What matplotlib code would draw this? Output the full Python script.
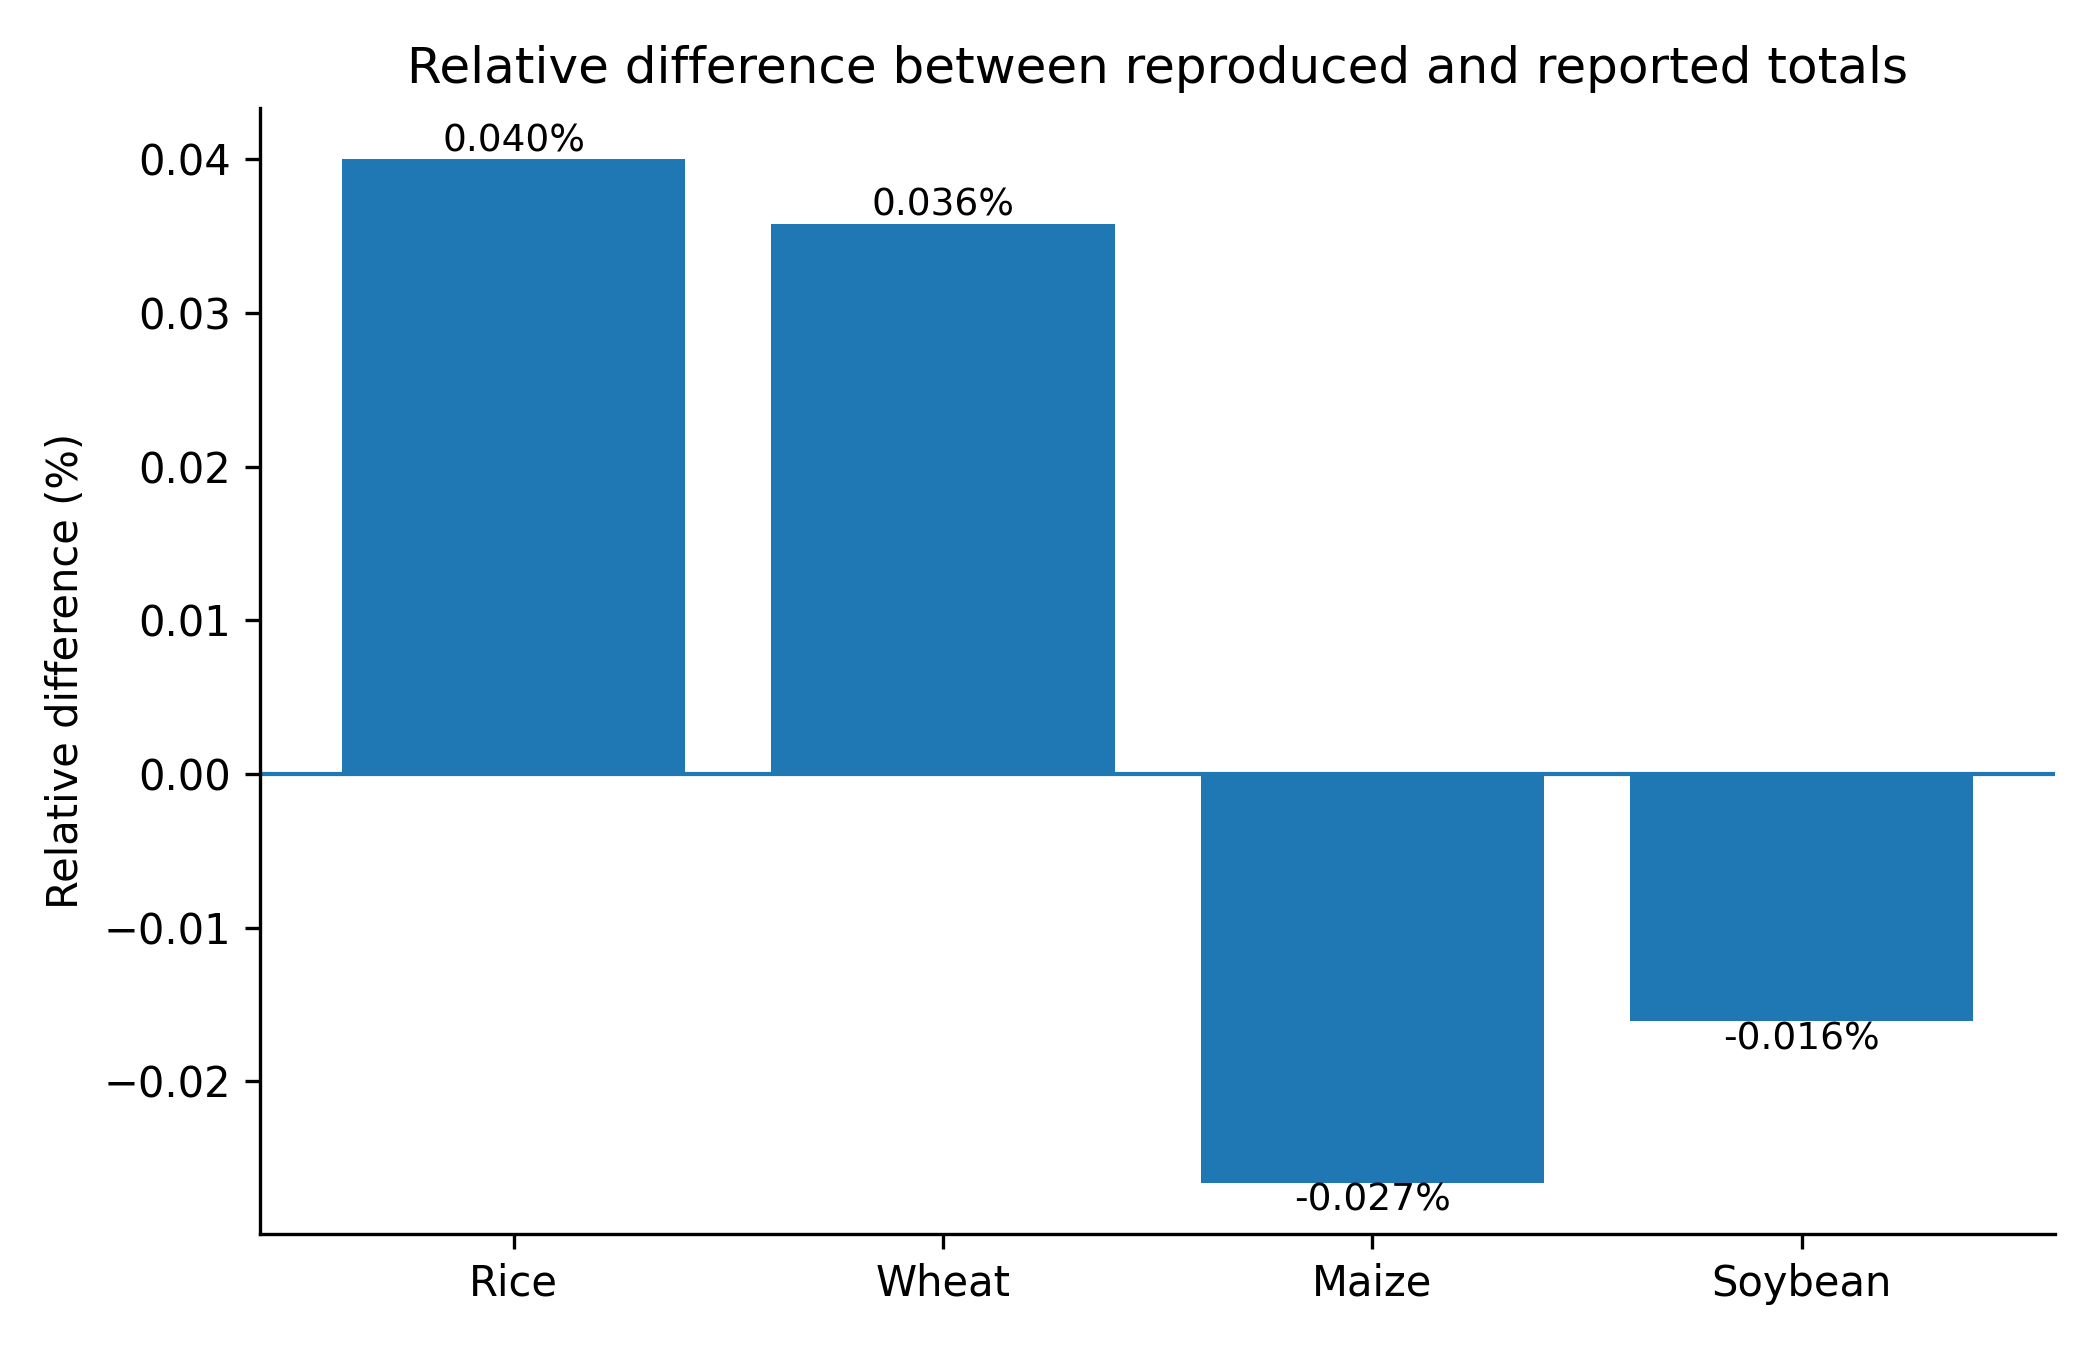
import matplotlib
matplotlib.use("Agg")
import matplotlib.pyplot as plt

crops = ["Rice", "Wheat", "Maize", "Soybean"]
rel_diff = [0.0400, 0.0358, -0.0266, -0.0161]

fig, ax = plt.subplots(figsize=(7, 4.5), dpi=300)
bars = ax.bar(crops, rel_diff, color="#1f77b4")
ax.axhline(0, color="#1f77b4", linewidth=1)
ax.bar_label(bars, labels=[f"{v:.3f}%" for v in rel_diff], fontsize=9)
ax.set_ylabel("Relative difference (%)")
ax.set_title("Relative difference between reproduced and reported totals")
ax.spines["top"].set_visible(False)
ax.spines["right"].set_visible(False)
fig.tight_layout()
fig.savefig("out.png", dpi=300)
